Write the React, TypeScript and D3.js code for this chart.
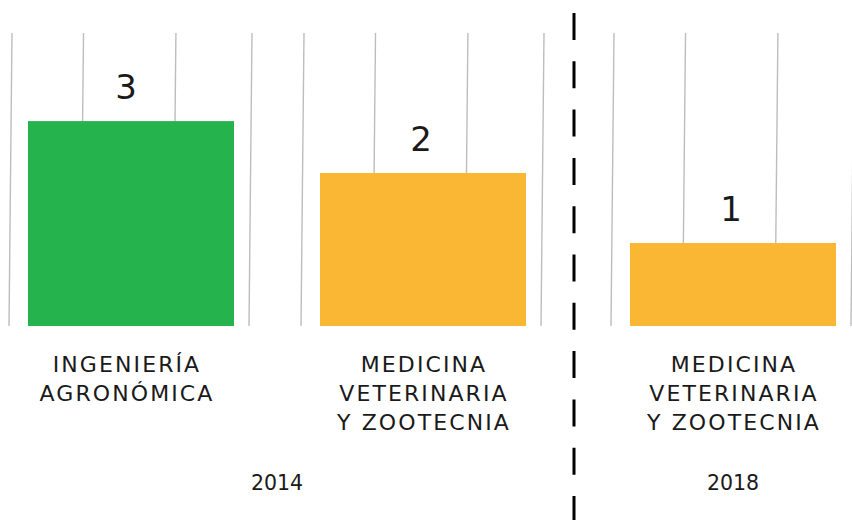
import React from "react";
import * as d3 from "d3";

// ---- data ----
const categories: string[][] = [
  ["INGENIERÍA", "AGRONÓMICA"],
  ["MEDICINA", "VETERINARIA", "Y ZOOTECNIA"],
  ["MEDICINA", "VETERINARIA", "Y ZOOTECNIA"],
];
const values: number[] = [3, 2, 1];
const panelYear: string[] = ["2014", "2014", "2018"];
const years: string[] = ["2014", "2018"];

// ---- style / layout config ----
const W = 852;
const H = 520;
const FONT = "'DejaVu Sans', sans-serif";
const barColors = ["#25B34D", "#F9B734", "#F9B734"];
const panelLefts = [12, 304, 614];
const panelWidth = 240;
const yDomainMax = [4.29, 3.83, 3.53];
const gridFractions = [0, 0.298, 0.683, 1];
const plotTop = 33;
const plotBottom = 326;
const slant = 3;

export default function App() {
  const panels = values.map((v, i) => {
    const x = d3
      .scaleLinear()
      .domain([0, 1])
      .range([panelLefts[i], panelLefts[i] + panelWidth]);
    const y = d3
      .scaleLinear()
      .domain([0, yDomainMax[i]])
      .range([plotBottom, plotTop]);
    return { v, i, x, y };
  });

  const yearCenters = years.map((yr) => {
    const idx = panelYear
      .map((p, i) => (p === yr ? i : -1))
      .filter((i) => i >= 0);
    const centers = idx.map((i) => panels[i].x(16 / panelWidth) + 103);
    return { yr, cx: d3.mean(centers) as number };
  });

  const dividerX = 574;

  return (
    <div style={{ position: "absolute", left: 0, top: 0 }}>
      <svg width={W} height={H} style={{ display: "block", background: "#fff" }}>
        {panels.map(({ i, x }) =>
          gridFractions.map((f, k) => (
            <line
              key={`g${i}-${k}`}
              x1={x(f)}
              x2={x(f) - slant}
              y1={plotTop}
              y2={plotBottom}
              stroke="#bdbdbd"
              strokeWidth={1.4}
            />
          ))
        )}
        {panels.map(({ v, i, x, y }) => {
          const bx = x(16 / panelWidth);
          const bw = 206;
          const cx = bx + bw / 2;
          const lx = i === 0 ? cx - 4 : cx + 1;
          return (
            <g key={`b${i}`}>
              <rect
                x={bx}
                y={y(v)}
                width={bw}
                height={plotBottom - y(v)}
                fill={barColors[i]}
              />
              <text
                x={i === 0 ? cx - 5 : cx - 2}
                y={y(v) - 22}
                textAnchor="middle"
                fontFamily={FONT}
                fontSize={34}
                fill="#1a1a1a"
              >
                {v}
              </text>
              <text
                x={lx}
                y={372}
                textAnchor="middle"
                fontFamily={FONT}
                fontSize={22}
                letterSpacing={2.1}
                fill="#1a1a1a"
              >
                {categories[i].map((line, k) => (
                  <tspan key={k} x={lx} dy={k === 0 ? 0 : 29}>
                    {line}
                  </tspan>
                ))}
              </text>
            </g>
          );
        })}
        {yearCenters.map(({ yr, cx }) => (
          <text
            key={yr}
            x={cx}
            y={490}
            textAnchor="middle"
            fontFamily={FONT}
            fontSize={20.5}
            fill="#1a1a1a"
          >
            {yr}
          </text>
        ))}
        <line
          x1={dividerX}
          x2={dividerX}
          y1={13}
          y2={H}
          stroke="#000"
          strokeWidth={3}
          strokeDasharray="27 21.3"
        />
      </svg>
    </div>
  );
}
